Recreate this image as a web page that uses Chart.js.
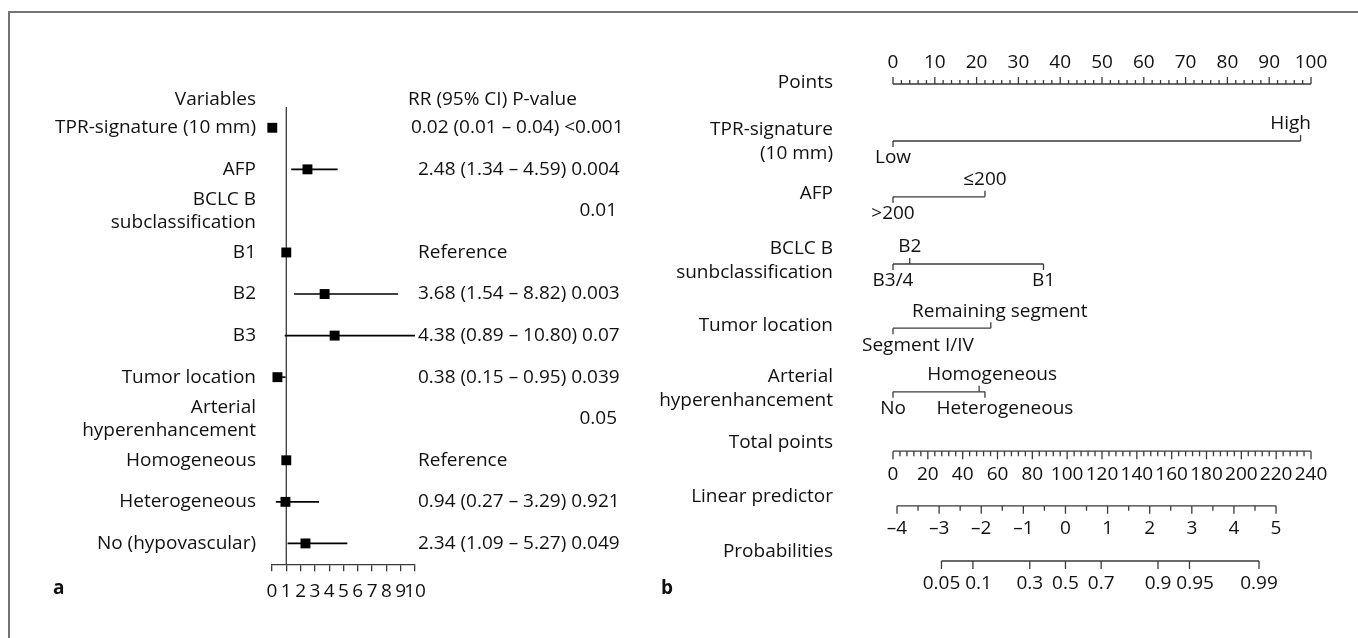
<!DOCTYPE html>
<html>
<head>
<meta charset="utf-8">
<title>Forest plot and nomogram</title>
<script src="https://cdn.jsdelivr.net/npm/chart.js@4.4.1/dist/chart.umd.min.js"></script>
<style>
  html, body { margin: 0; padding: 0; background: #fff; }
  #figure { position: relative; width: 1358px; height: 638px; overflow: hidden; }
  #frame { position: absolute; left: 8px; top: 11px; width: 1400px; height: 700px;
           border-top: 2px solid #737373; border-left: 2px solid #737373; }
  #forest, #nomogram { position: absolute; top: 0; }
  #forest { left: 0; }
  #nomogram { left: 640px; }
</style>
</head>
<body>
<div id="figure">
  <div id="frame"></div>
  <canvas id="forest" width="640" height="638"></canvas>
  <canvas id="nomogram" width="718" height="638"></canvas>
</div>
<script>
const FONT = '"Open Sans", "Noto Sans", sans-serif';
const TEXT_SIZE = 19;
const INK = '#111';
const AXIS = '#3a3a3a';

// ---- panel a: relative risks ----
const forestHeaders = ['Variables', 'RR (95% CI) P-value'];
const forestRows = [
  'TPR-signature (10 mm)', 'AFP', 'BCLC B\nsubclassification', 'B1', 'B2', 'B3',
  'Tumor location', 'Arterial\nhyperenhancement', 'Homogeneous', 'Heterogeneous', 'No (hypovascular)'
];
const rrEstimate = [0.02, 2.48, null, 1, 3.68, 4.38, 0.38, null, 1, 0.94, 2.34];
const ciLower = [0.01, 1.34, null, null, 1.54, 0.89, 0.15, null, null, 0.27, 1.09];
const ciUpper = [0.04, 4.59, null, null, 8.82, 10.80, 0.95, null, null, 3.29, 5.27];
const rrText = [
  '0.02 (0.01 – 0.04) <0.001', '2.48 (1.34 – 4.59) 0.004', '0.01', 'Reference',
  '3.68 (1.54 – 8.82) 0.003', '4.38 (0.89 – 10.80) 0.07', '0.38 (0.15 – 0.95) 0.039',
  '0.05', 'Reference', '0.94 (0.27 – 3.29) 0.921', '2.34 (1.09 – 5.27) 0.049'
];
const rrAxisRange = [0, 10];

// ---- panel b: nomogram ----
const nomoVars = ['TPR-signature\n(10 mm)', 'AFP', 'BCLC B\nsunbclassification', 'Tumor location', 'Arterial\nhyperenhancement'];
const nomoLevels = [
  ['Low', 'High'],
  ['>200', '≤200'],
  ['B3/4', 'B2', 'B1'],
  ['Segment I/IV', 'Remaining segment'],
  ['No', 'Homogeneous', 'Heterogeneous']
];
const nomoPoints = [[0, 97.5], [0, 22], [0, 4, 36], [0, 23.4], [0, 20.6, 22]];
const nomoAbove = [[false, true], [false, true], [false, true, false], [false, true], [false, true, false]];
const pointsTicks = [0, 10, 20, 30, 40, 50, 60, 70, 80, 90, 100];
const totalTicks = [0, 20, 40, 60, 80, 100, 120, 140, 160, 180, 200, 220, 240];
const lpTicks = [-4, -3, -2, -1, 0, 1, 2, 3, 4, 5];
const probTicks = [0.05, 0.1, 0.3, 0.5, 0.7, 0.9, 0.95, 0.99];
const lpAtTotalEnds = [-4.095, 5.83];   // linear predictor read at 0 and 240 total points
const bottomAxes = ['Total points', 'Linear predictor', 'Probabilities'];

// layout: vertical slot of each nomogram row (Points, 5 variables, 3 bottom axes)
const rowSlot = [0, 0.95, 1.88, 3.0, 4.07, 5.13, 6.12, 7.03, 7.95];
// vertical offset (px) of the left-hand label of each variable row
const varLabelShift = [1, -3, -3, -3, -3];
// label nudges (px) where the original moved labels off their tick
const labelNudge = { 'Remaining segment': 9, 'Homogeneous': 13, 'Heterogeneous': 20 };

function drawLines(ctx, str, x, y, gap) {
  const lines = str.split('\n');
  const y0 = y - (lines.length - 1) * gap / 2;
  lines.forEach((l, k) => ctx.fillText(l, x, y0 + k * gap));
}

function fmtSigned(v) {
  return v < 0 ? '–' + Math.abs(v) : String(v);
}

// centred axis labels, pushed right when they would touch the previous one
function axisLabels(ctx, items, y, gap) {
  let lastRight = -Infinity;
  items.forEach(([text, px]) => {
    const w = ctx.measureText(text).width;
    let left = px - w / 2;
    if (left < lastRight + gap) left = lastRight + gap;
    ctx.fillText(text, left + w / 2, y);
    lastRight = left + w;
  });
}

// ---- forest plot ----
const forestDecor = {
  id: 'forestDecor',
  beforeDatasetsDraw(chart) {
    const {ctx, chartArea, scales: {x, y}} = chart;
    ctx.save();
    // reference line at RR = 1
    const x1 = x.getPixelForValue(1);
    ctx.strokeStyle = AXIS;
    ctx.lineWidth = 1.3;
    ctx.beginPath();
    ctx.moveTo(x1, chartArea.top);
    ctx.lineTo(x1, chartArea.bottom);
    ctx.stroke();
    // confidence intervals, clipped to the axis
    ctx.strokeStyle = '#000';
    ctx.lineWidth = 1.6;
    rrEstimate.forEach((v, i) => {
      if (ciLower[i] === null) return;
      const yy = y.getPixelForValue(i);
      ctx.beginPath();
      ctx.moveTo(x.getPixelForValue(Math.max(ciLower[i], x.min)), yy);
      ctx.lineTo(x.getPixelForValue(Math.min(ciUpper[i], x.max)), yy);
      ctx.stroke();
    });
    ctx.restore();
  },
  afterDraw(chart) {
    const {ctx, chartArea, scales: {x, y}} = chart;
    ctx.save();
    ctx.font = `${TEXT_SIZE}px ${FONT}`;
    ctx.fillStyle = INK;
    ctx.textBaseline = 'middle';
    const labelRight = x.left - 16;
    const rrLeft = x.right + 3;
    const rrRight = x.right + 202;
    const headY = y.getPixelForValue(-0.5) - 7;
    ctx.textAlign = 'right';
    ctx.fillText(forestHeaders[0], labelRight, headY);
    ctx.textAlign = 'left';
    ctx.fillText(forestHeaders[1], rrLeft - 10, headY);
    forestRows.forEach((row, i) => {
      const yy = y.getPixelForValue(i);
      ctx.textAlign = 'right';
      drawLines(ctx, row, labelRight, yy, 23);
      if (rrEstimate[i] === null) {
        ctx.textAlign = 'right';
        ctx.fillText(rrText[i], rrRight, yy);
      } else {
        ctx.textAlign = 'left';
        ctx.fillText(rrText[i], i === 0 ? rrLeft - 7 : rrLeft, yy);
      }
    });
    ctx.font = `bold ${TEXT_SIZE}px ${FONT}`;
    ctx.textAlign = 'left';
    ctx.fillText('a', 53, chartArea.bottom + 24);
    ctx.restore();
  }
};

const forestPoints = rrEstimate
  .map((v, i) => (v === null ? null : {x: v, y: i}))
  .filter(Boolean);

new Chart(document.getElementById('forest'), {
  type: 'scatter',
  data: {
    datasets: [{
      data: forestPoints,
      clip: false,
      pointStyle: 'rect',
      pointRadius: 7,
      borderWidth: 0,
      backgroundColor: '#000',
      borderColor: '#000'
    }]
  },
  options: {
    responsive: false,
    animation: false,
    layout: {padding: {left: 272, right: 225, top: 107, bottom: 26}},
    plugins: {legend: {display: false}, tooltip: {enabled: false}},
    scales: {
      x: {
        type: 'linear',
        min: rrAxisRange[0],
        max: rrAxisRange[1],
        ticks: {
          stepSize: 1, autoSkip: false, maxRotation: 0, minRotation: 0,
          padding: 9, color: INK, font: {family: FONT, size: TEXT_SIZE}
        },
        grid: {drawOnChartArea: false, tickLength: 7, color: AXIS, lineWidth: 1.3},
        border: {color: AXIS, width: 1.3}
      },
      y: {type: 'linear', min: -0.5, max: forestRows.length - 0.5, reverse: true, display: false}
    }
  },
  plugins: [forestDecor]
});

// ---- nomogram ----
function tickRow(ctx, scale, y, from, to, step, isMajor, majorLen, minorLen, dir) {
  ctx.beginPath();
  ctx.moveTo(scale.getPixelForValue(from), y);
  ctx.lineTo(scale.getPixelForValue(to), y);
  for (let v = from; v <= to + 1e-9; v += step) {
    const px = scale.getPixelForValue(v);
    ctx.moveTo(px, y);
    ctx.lineTo(px, y + dir * (isMajor(v) ? majorLen : minorLen));
  }
  ctx.stroke();
}

const nomoDecor = {
  id: 'nomoDecor',
  afterDatasetsDraw(chart) {
    const {ctx, chartArea, scales} = chart;
    const xp = scales.x, xt = scales.xTotal, xl = scales.xLp, yr = scales.y;
    const rowY = i => yr.getPixelForValue(rowSlot[i]);
    ctx.save();
    ctx.font = `${TEXT_SIZE}px ${FONT}`;
    ctx.fillStyle = INK;
    ctx.strokeStyle = AXIS;
    ctx.lineWidth = 1.3;
    ctx.textBaseline = 'middle';

    // left-hand row labels
    const labelRight = chartArea.left - 60;
    ctx.textAlign = 'right';
    ctx.fillText('Points', labelRight, rowY(0) - 1);
    nomoVars.forEach((name, r) => drawLines(ctx, name, labelRight, rowY(r + 1) + varLabelShift[r], 24));
    bottomAxes.forEach((name, k) => ctx.fillText(name, labelRight, rowY(6 + k) - 9));

    // points scale, ticks pointing up
    const y0 = rowY(0);
    tickRow(ctx, xp, y0, 0, 100, 2, v => Math.abs(v % 10) < 1e-6, 7, 4, -1);
    ctx.textAlign = 'center';
    axisLabels(ctx, pointsTicks.map(v => [String(v), xp.getPixelForValue(v)]), y0 - 21, 2);

    // variable rows: ticks toward their labels
    const minLeft = chartArea.left - 31;
    nomoLevels.forEach((levels, r) => {
      const yy = rowY(r + 1);
      levels.forEach((lab, k) => {
        const px = xp.getPixelForValue(nomoPoints[r][k]);
        const up = nomoAbove[r][k];
        ctx.beginPath();
        ctx.moveTo(px, yy);
        ctx.lineTo(px, yy + (up ? -6 : 6));
        ctx.stroke();
        const w = ctx.measureText(lab).width;
        let cx = px + (labelNudge[lab] || 0);
        cx = Math.max(cx, minLeft + w / 2);
        cx = Math.min(cx, chartArea.right - w / 2);
        ctx.fillText(lab, cx, yy + (up ? -17 : 17));
      });
    });

    // total points, ticks pointing down
    const yT = rowY(6);
    tickRow(ctx, xt, yT, 0, 240, 4, v => Math.abs(v % 20) < 1e-6, 8, 5, 1);
    axisLabels(ctx, totalTicks.map(v => [String(v), xt.getPixelForValue(v)]), yT + 23, 1);

    // linear predictor
    const yL = rowY(7);
    tickRow(ctx, xl, yL, lpTicks[0], lpTicks[lpTicks.length - 1], 0.5, v => Math.abs(v % 1) < 1e-6, 8, 5, 1);
    axisLabels(ctx, lpTicks.map(v => [fmtSigned(v), xl.getPixelForValue(v)]), yL + 23, 2);

    // probabilities on the logit of the linear predictor
    const yP = rowY(8);
    const logit = p => Math.log(p / (1 - p));
    ctx.beginPath();
    ctx.moveTo(xl.getPixelForValue(logit(probTicks[0])), yP);
    ctx.lineTo(xl.getPixelForValue(logit(probTicks[probTicks.length - 1])), yP);
    probTicks.forEach(p => {
      const px = xl.getPixelForValue(logit(p));
      ctx.moveTo(px, yP);
      ctx.lineTo(px, yP + 8);
    });
    ctx.stroke();
    axisLabels(ctx, probTicks.map(p => [String(p), xl.getPixelForValue(logit(p))]), yP + 23, 5);

    // panel letter
    ctx.font = `bold ${TEXT_SIZE}px ${FONT}`;
    ctx.textAlign = 'left';
    ctx.fillText('b', 21, 589);
    ctx.restore();
  }
};

new Chart(document.getElementById('nomogram'), {
  type: 'scatter',
  data: {
    datasets: nomoPoints.map((pts, r) => ({
      data: [{x: Math.min(...pts), y: rowSlot[r + 1]}, {x: Math.max(...pts), y: rowSlot[r + 1]}],
      showLine: true,
      borderColor: AXIS,
      borderWidth: 1.3,
      pointRadius: 0,
      xAxisID: 'x',
      yAxisID: 'y'
    }))
  },
  options: {
    responsive: false,
    animation: false,
    layout: {padding: {left: 253, right: 47, top: 54, bottom: 44}},
    plugins: {legend: {display: false}, tooltip: {enabled: false}},
    scales: {
      x: {type: 'linear', min: 0, max: 100, display: false},
      xTotal: {type: 'linear', axis: 'x', min: 0, max: 240, display: false},
      xLp: {type: 'linear', axis: 'x', min: lpAtTotalEnds[0], max: lpAtTotalEnds[1], display: false},
      y: {type: 'linear', min: -0.5, max: 8.5, reverse: true, display: false}
    }
  },
  plugins: [nomoDecor]
});
</script>
</body>
</html>
